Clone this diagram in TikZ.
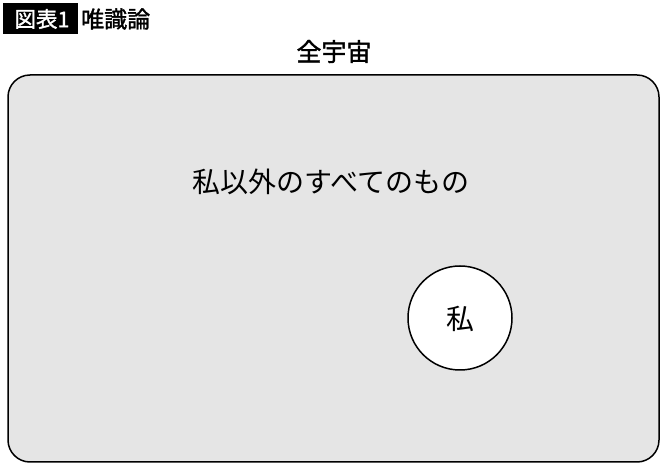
\documentclass[tikz,border=0pt]{standalone}
\usepackage{fontspec}
\newfontfamily\jp{Noto Sans CJK JP}
\newfontfamily\jpmed[FakeBold=1.5]{Noto Sans CJK JP}
\usepackage{tikz}

\begin{document}
\begin{tikzpicture}[x=1pt, y=-1pt,
  label text/.style={font=\jp\fontsize{#1}{#1}\selectfont, inner sep=0pt},
  medium text/.style={font=\jpmed\fontsize{#1}{#1}\selectfont, inner sep=0pt}]
  \useasboundingbox (0,0) rectangle (670,470);

  % header
  \fill[black] (3,3) rectangle (78,34);
  \node[medium text=21.5, text=white] (fig) at (42,19) {図表1};
  \node[medium text=23, anchor=west] (title) at (81,19) {唯識論};

  % universe
  \node[medium text=25] (universe) at (334,51.5) {全宇宙};
  \draw[line width=1.5pt, fill=gray!20, rounded corners=22pt] (8,75) rectangle (659,462);
  \node[label text=28] (others) at (331,182) {私以外のすべてのもの};

  % me
  \draw[line width=1.5pt, fill=white] (460,318) circle (52);
  \node[label text=28] (me) at (460,319) {私};
\end{tikzpicture}
\end{document}
